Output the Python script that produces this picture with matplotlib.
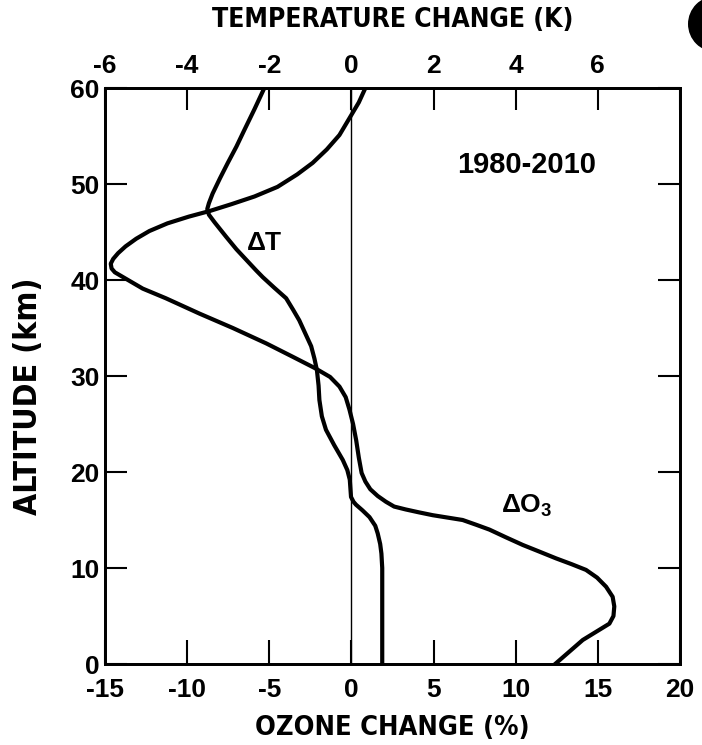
import matplotlib
matplotlib.use("Agg")
import matplotlib.pyplot as plt
from matplotlib import font_manager as fm
from matplotlib.patches import Circle

# Ozone change profile (%) vs altitude (km)
ozone_alt = [60.0, 58.5, 57.2, 55.1, 53.6, 52.2, 51.0, 49.7, 48.7, 47.9, 47.2,
             46.6, 45.9, 45.1, 44.3, 43.5, 42.8, 42.2, 41.7, 41.2, 40.8, 40.5,
             39.8, 39.1, 38.1, 36.5, 35.0, 33.4, 32.0, 30.8, 29.9, 28.9, 27.8,
             26.5, 25.0, 23.3, 21.5, 19.9, 19.0, 18.2, 17.5, 16.9, 16.4, 16.1,
             15.8, 15.5, 15.0, 14.5, 14.0, 13.2, 12.4, 11.7, 11.0, 10.4, 9.8,
             9.0, 8.05, 7.0, 6.0, 5.0, 4.2, 2.5, 0.0]
ozone_pct = [0.85, 0.45, 0.0, -0.73, -1.5, -2.36, -3.3, -4.5, -5.9, -7.3, -8.6,
             -9.9, -11.2, -12.3, -13.1, -13.75, -14.2, -14.5, -14.65, -14.6,
             -14.4, -14.1, -13.4, -12.7, -11.3, -9.25, -7.22, -5.19, -3.57,
             -2.2, -1.3, -0.73, -0.35, -0.12, 0.1, 0.29, 0.45, 0.62, 0.85, 1.15,
             1.6, 2.1, 2.6, 3.3, 4.1, 4.95, 6.77, 7.6, 8.40, 9.4, 10.43, 11.45,
             12.46, 13.4, 14.28, 14.95, 15.50, 15.9, 16.0, 15.95, 15.7, 14.08,
             12.4]

# Temperature change profile (K) vs altitude (km)
temp_alt = [60.0, 57.8, 55.6, 53.9, 52.2, 50.6, 49.0, 48.0, 47.4, 46.8, 46.0,
            44.5, 43.2, 42.1, 41.0, 40.3, 39.2, 38.1, 36.9, 35.8, 34.4, 33.1,
            31.8, 30.6, 29.0, 27.5, 25.8, 24.4, 22.8, 21.25, 20.2, 19.2, 17.4,
            16.9, 16.6, 16.0, 15.3, 14.4, 13.6, 12.5, 11.5, 10.0, 0.0]
temp_k = [-2.12, -2.36, -2.61, -2.8, -3.01, -3.2, -3.38, -3.47, -3.51, -3.47,
          -3.33, -3.05, -2.8, -2.56, -2.32, -2.16, -1.88, -1.59, -1.42, -1.27,
          -1.12, -0.98, -0.9, -0.84, -0.80, -0.78, -0.72, -0.62, -0.42, -0.21,
          -0.1, -0.04, -0.01, 0.05, 0.11, 0.27, 0.44, 0.58, 0.64, 0.70, 0.73,
          0.75, 0.75]

ozone_ticks = [-15, -10, -5, 0, 5, 10, 15, 20]
temp_ticks = [-6, -4, -2, 0, 2, 4, 6, 8]
temp_tick_labels = ["-6", "-4", "-2", "0", "2", "4", "6", ""]
alt_ticks = [0, 10, 20, 30, 40, 50, 60]


def find_condensed_bold():
    """Return the file of a bold, condensed sans-serif face if one is installed."""
    best = None
    for entry in fm.fontManager.ttflist:
        name = entry.name
        if "Mono" in name or "CJK" in name or "Serif" in name:
            continue
        weight = entry.weight
        if isinstance(weight, str):
            weight = {"bold": 700, "semibold": 600, "demibold": 600}.get(weight, 400)
        if entry.style != "normal" or weight != 700:
            continue
        if entry.stretch in ("condensed", "semi-condensed") or "Condensed" in name:
            if entry.stretch == "semi-condensed":
                return entry.fname
            best = best or entry.fname
    return best


cond_file = find_condensed_bold()

plt.rcParams["font.family"] = ["Liberation Sans", "DejaVu Sans"]
plt.rcParams["font.weight"] = "bold"
plt.rcParams["axes.unicode_minus"] = False
plt.rcParams["mathtext.fontset"] = "custom"
plt.rcParams["mathtext.rm"] = "Liberation Sans:bold"
plt.rcParams["mathtext.it"] = "Liberation Sans:bold"
plt.rcParams["mathtext.bf"] = "Liberation Sans:bold"


def label_font(size_cond, size_plain):
    if cond_file:
        return fm.FontProperties(fname=cond_file, size=size_cond)
    return fm.FontProperties(family="Liberation Sans", weight="bold", size=size_plain)


W, H = 702, 745
fig = plt.figure(figsize=(W / 100, H / 100), dpi=100)
left, right, top, bottom = 105, 680, 88, 664
ax = fig.add_axes([left / W, 1 - bottom / H, (right - left) / W, (bottom - top) / H])

ax.set_xlim(-15, 20)
ax.set_ylim(0, 60)
ax.axvline(0, color="black", lw=1.0, zorder=1)
ax.plot(ozone_pct, ozone_alt, color="black", lw=3.0, solid_joinstyle="round", zorder=3)

ax2 = ax.twiny()
ax2.set_xlim(-6, 8)
ax2.plot(temp_k, temp_alt, color="black", lw=3.0, solid_joinstyle="round", zorder=3)

for a in (ax, ax2):
    for s in a.spines.values():
        s.set_linewidth(2.0)

tick_size = 19
ax.set_xticks(ozone_ticks)
ax.set_xticklabels([str(t) for t in ozone_ticks])
ax.set_yticks(alt_ticks)
ax.tick_params(axis="x", direction="in", length=17, width=1.5, labelsize=tick_size, pad=10)
ax.tick_params(axis="y", direction="in", length=16, width=1.5, labelsize=tick_size,
               left=True, right=True, labelleft=True, labelright=False, pad=4)
ax2.set_xticks(temp_ticks)
ax2.set_xticklabels(temp_tick_labels)
ax2.tick_params(axis="x", direction="in", length=16, width=1.5, labelsize=tick_size, pad=7)

ax.set_xlabel("OZONE CHANGE (%)", fontproperties=label_font(19.5, 19.5))
ax2.set_xlabel("TEMPERATURE CHANGE (K)", fontproperties=label_font(19, 18.5))
ax.set_ylabel("ALTITUDE (km)", fontproperties=label_font(23, 23))
ax.xaxis.label.set_va("center")
ax2.xaxis.label.set_va("center")
ax.yaxis.label.set_va("center")
ax.xaxis.set_label_coords(0.5, (bottom - 728) / (bottom - top))
ax2.xaxis.set_label_coords(0.5, (bottom - 20) / (bottom - top))
ax.yaxis.set_label_coords((28 - left) / (right - left), 0.465)

ax.text(10.65, 52.0, "1980-2010", fontsize=21, fontweight="bold", ha="center", va="center")
ax.text(-5.3, 43.9, "\u0394T", fontsize=19, fontweight="bold", ha="center", va="center")
ax.text(9.1, 16.5, r"$\Delta$O$_3$", fontsize=19, fontweight="bold", ha="left", va="center")

# dark disc at the upper right corner of the sheet
fig.patches.append(Circle((7.16, (H - 24) / 100), 0.28, transform=fig.dpi_scale_trans,
                          facecolor="black", edgecolor="none", figure=fig))

fig.savefig("out.png", dpi=100)
